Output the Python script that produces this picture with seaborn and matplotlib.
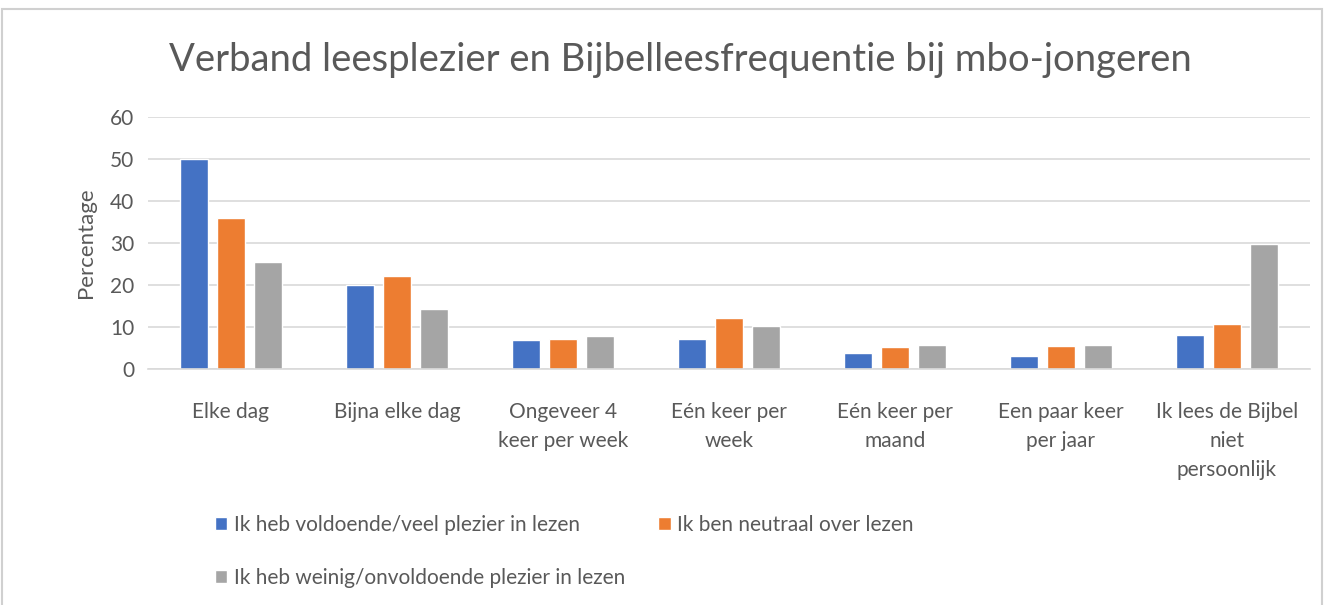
import pandas as pd
import numpy as np
import matplotlib
matplotlib.use("Agg")
import matplotlib.pyplot as plt
import seaborn as sns
from matplotlib.patches import Rectangle

# categories on the x axis (wrapped like the original)
categories = ["Elke dag", "Bijna elke dag", "Ongeveer 4\nkeer per week",
              "Eén keer per\nweek", "Eén keer per\nmaand",
              "Een paar keer\nper jaar", "Ik lees de Bijbel\nniet\npersoonlijk"]

groups = ["Ik heb voldoende/veel plezier in lezen",
          "Ik ben neutraal over lezen",
          "Ik heb weinig/onvoldoende plezier in lezen"]

veel_plezier = [50.0, 20.0, 6.8, 7.2, 3.7, 3.0, 8.0]
neutraal = [36.0, 22.1, 7.2, 12.2, 5.2, 5.4, 10.8]
weinig_plezier = [25.4, 14.2, 7.8, 10.3, 5.8, 5.8, 29.7]

colors = ["#4472C4", "#ED7D31", "#A5A5A5"]
text_col = "#595959"

#Build long table for seaborn
df = pd.DataFrame({
    "categorie": categories * 3,
    "groep": [groups[0]] * 7 + [groups[1]] * 7 + [groups[2]] * 7,
    "percentage": veel_plezier + neutraal + weinig_plezier,
})

sns.set_style("white")
plt.rcParams['font.family'] = ['Lato', 'DejaVu Sans']

fig = plt.figure(figsize=(13.26, 6.05), dpi=100)
ax = fig.add_axes([148/1326, 1 - 369/605, (1310 - 148)/1326, (369 - 117)/605])

sns.barplot(data=df, x="categorie", y="percentage", hue="groep",
            order=categories, hue_order=groups, palette=colors,
            width=0.67, gap=0.24, ax=ax, saturation=1)

ax.set_ylim(0, 60)
ax.set_yticks(np.arange(0, 61, 10))
ax.yaxis.grid(True, color="#d9d9d9", linewidth=1.2)
ax.set_axisbelow(True)
for s in ["top", "right", "left"]:
    ax.spines[s].set_visible(False)
ax.spines["bottom"].set_color("#d9d9d9")
ax.spines["bottom"].set_linewidth(1.2)
ax.tick_params(axis="both", length=0, labelsize=15, colors=text_col, pad=10)
ax.tick_params(axis="x", pad=24)
for lbl in ax.get_xticklabels():
    lbl.set_linespacing(1.55)
    lbl.set_va("top")
ax.set_xlabel("")
ax.set_ylabel("Percentage", fontsize=16, color=text_col, labelpad=10)

fig.text(680/1326, 1 - 60/605, "Verband leesplezier en Bijbelleesfrequentie bij mbo-jongeren",
         ha="center", va="center", fontsize=27.5, color=text_col)

# legend: row 1 blue + orange, row 2 gray (legend fills column-wise)
handles, labels = ax.get_legend_handles_labels()
ax.get_legend().remove()
order = [0, 2, 1]
fig.legend([handles[i] for i in order], [labels[i] for i in order], ncol=2,
           loc="upper left", bbox_to_anchor=(196/1326, 1 - 496/605), frameon=False,
           fontsize=15, labelcolor=text_col, handlelength=0.6, handleheight=0.6,
           handletextpad=0.3, columnspacing=1.6, labelspacing=1.6)

# chart border like the spreadsheet frame
fig.patches.append(Rectangle((2/1326, -0.1), 1320/1326, 1.1 - 9/605,
                             transform=fig.transFigure, fill=False,
                             edgecolor="#d0d0d0", linewidth=1.5))

fig.savefig("out.png", dpi=100)
